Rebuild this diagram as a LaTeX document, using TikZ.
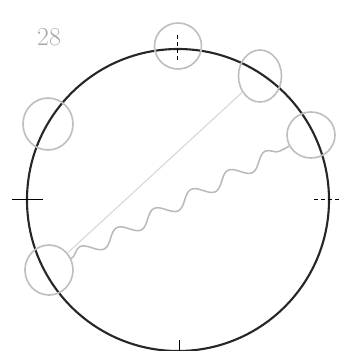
\documentclass[tikz,border=0pt]{standalone}
\usetikzlibrary{shapes.geometric,decorations.pathmorphing}
\tikzset{
  ring/.style={draw=gray!50, line width=1.4pt, ellipse, inner sep=0pt},
  wave/.style={draw=gray!55, line width=1.3pt, decorate,
    decoration={snake, segment length=1.25cm, amplitude=0.2cm}}
}
\begin{document}
\begin{tikzpicture}[x=0.03cm, y=-0.03cm]
        \useasboundingbox (0,0) rectangle (342,351);
        \node[text=gray!70] at (49,37) (n) {\fontsize{22}{24}\selectfont 28};
        \draw[black!85, line width=1.8pt] (178,200) circle[radius=151];

        \node[ring, minimum width=1.41cm, minimum height=1.38cm] at (178,46)  (a) {};
        \node[ring, minimum width=1.29cm, minimum height=1.56cm] at (260,76)  (b) {};
        \node[ring, minimum width=1.44cm, minimum height=1.38cm] at (311,135) (c) {};
        \node[ring, minimum width=1.50cm, minimum height=1.56cm] at (48,124)  (d) {};
        \node[ring, minimum width=1.44cm, minimum height=1.50cm] at (49,270)  (e) {};

        \draw[gray!30, line width=1pt] (e) -- (b);
        \draw[wave] (e) -- (c);

        \draw[line width=0.8pt] (12,199) -- (43,199);
        \draw[dashed, line width=0.7pt] (177,35) -- (177,63);
        \draw[dashed, line width=0.6pt] (314,199) -- (342,199);
        \draw[line width=0.6pt] (179,340) -- (179,351);
\end{tikzpicture}
\end{document}
